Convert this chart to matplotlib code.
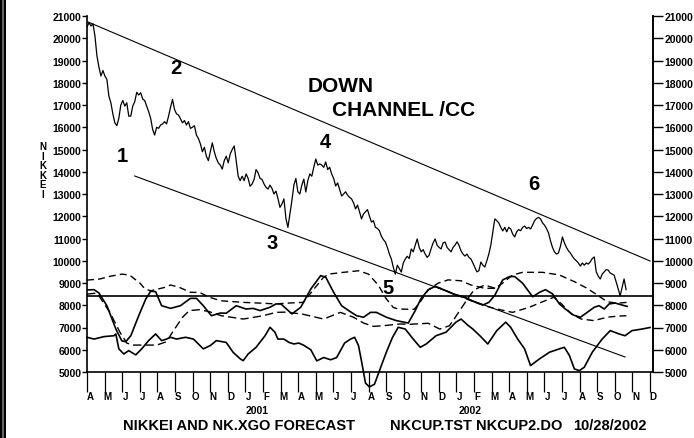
import numpy as np
import pandas as pd
import matplotlib
matplotlib.use("Agg")
import matplotlib.pyplot as plt

plt.rcParams['font.family'] = ['Liberation Sans', 'DejaVu Sans']
plt.rcParams['font.weight'] = 'bold'

# ---- data (months counted from 1 Apr 2000) ----
month_letters = list("AMJJASONDJFMAMJJASONDJFMAMJJASOND")
year_labels = ["2001", "2002"]

# Nikkei closes, half-weekly from Apr 2000 to 20 Oct 2002
nikkei = [
    20500, 20700, 20550, 20650, 20100, 19200, 18700, 18300, 18550, 18300,
    18150, 17400, 17100, 16600, 16200, 16070, 16400, 17000, 17200, 16950,
    17100, 16500, 16500, 16950, 17150, 17570, 17450, 17550, 17270, 17200,
    16950, 16700, 16400, 15900, 15650, 16000, 15950, 16100, 16150, 16250,
    16150, 16500, 16900, 17250, 16800, 16600, 16550, 16370, 16200, 16300,
    16100, 16250, 15950, 16000, 16070, 15650, 15500, 15250, 14900, 15100,
    14700, 14500, 14900, 15300, 14900, 14600, 14400, 14300, 14120, 14500,
    14700, 14400, 14800, 15000, 15160, 14500, 13800, 13600, 13800, 13600,
    13900, 13700, 13350, 13450, 13650, 14100, 13950, 13700, 13650, 13450,
    13300, 13220, 13400, 13250, 13000, 13130, 12800, 12400, 12550, 12780,
    11900, 11500, 12100, 12700, 13400, 13700, 13100, 13000, 13400, 13670,
    13090, 13600, 13900, 13800, 14200, 14570, 14300, 14350, 14300, 14200,
    14440, 14100, 14200, 13900, 13700, 13360, 13500, 13200, 12910, 13000,
    13100, 12950, 12850, 12780, 12600, 12330, 12500, 12200, 11880, 12100,
    12200, 12300, 12000, 11740, 11800, 11500, 11450, 11350, 11100, 10950,
    10840, 10600, 10300, 10080, 9700, 9400, 9800, 9650, 9490, 9900,
    10080, 10200, 10100, 10530, 10400, 10700, 10980, 10600, 10400, 10500,
    10300, 10150, 10250, 10550, 10800, 10980, 10700, 10600, 10530, 10800,
    10840, 10600, 10500, 10400, 10600, 10700, 10850, 10700, 10450, 10300,
    10210, 10300, 10150, 10080, 9900, 9700, 9500, 9550, 9940, 9800,
    9720, 10000, 10300, 10700, 11300, 11880, 11800, 11700, 11500, 11340,
    11500, 11300, 11500, 11430, 11200, 11070, 11300, 11400, 11350, 11500,
    11560, 11450, 11500, 11430, 11600, 11800, 11900, 11950, 11880, 11700,
    11600, 11450, 11250, 10900, 10600, 10400, 10300, 10350, 10650, 11070,
    10800, 10600, 10450, 10350, 10200, 10080, 10000, 9900, 9760, 9900,
    9800, 9900, 9850, 9950, 10100, 10170, 9500, 9310, 9180, 9400,
    9500, 9600, 9580, 9450, 9400, 9350, 9050, 8750, 8420, 8800,
    9180, 8700,
]
nikkei_end_month = 30.64

# NK.XGO oscillator (solid)
osc_m = [0.00, 0.40, 0.68, 1.13, 1.64, 1.98, 2.20, 2.49, 2.94, 3.34, 3.62, 3.90,
         4.24, 4.75, 5.31, 5.88, 6.22, 6.61, 7.07, 7.58, 7.91, 8.48, 9.04, 9.44,
         9.84, 10.40, 10.74, 11.02, 11.65, 12.15, 12.72, 13.28, 13.57, 14.02,
         14.47, 14.87, 15.32, 15.72, 16.11, 16.45, 17.02, 17.58, 18.26, 18.65,
         18.99, 19.39, 19.79, 20.29, 20.86, 21.42, 21.99, 22.50, 22.84, 23.18,
         23.63, 24.02, 24.31, 24.76, 25.33, 25.72, 26.06, 26.46, 26.85, 27.19,
         27.64, 28.04, 28.43, 28.83, 29.11, 29.40, 29.68, 30.02, 30.41, 30.70]
osc_v = [8690, 8700, 8550, 7980, 6930, 6400, 6360, 6630, 7530, 8280, 8630, 8610,
         7980, 7860, 7980, 8310, 8310, 7980, 7530, 7650, 7640, 7980, 7830, 7860,
         7760, 7910, 8060, 8060, 7610, 7910, 8730, 9330, 9260, 8580,
         7980, 7760, 7530, 7460, 7680, 7680, 7460, 7310, 7200, 7750,
         8310, 8690, 8850, 8690, 8490, 8380, 8160, 8010, 8130, 8450,
         9140, 9290, 9290, 8990, 8380, 8580, 8700, 8510, 8060, 7830,
         7560, 7460, 7680, 7910, 7980, 7830, 8060, 8100, 8010, 7950]

# forecast bands (dashed)
up_m = [0.0, 0.73, 1.30, 2.0, 2.43, 3.0, 3.3, 3.62, 4.41, 4.75, 5.26, 5.88, 6.39,
        6.95, 7.63, 8.88, 10.0, 10.74, 11.5, 12.3, 12.9, 13.45, 13.74, 14.58,
        15.43, 16.0, 16.56, 17.0, 17.41, 17.69, 18.26, 18.6, 18.95, 19.39, 19.95,
        20.52, 21.26, 21.82, 22.6, 23.2, 23.63, 24.19, 24.76, 25.89, 26.85, 27.7,
        28.43, 29.0, 29.56, 30.13, 30.7]
up_v = [9130, 9180, 9300, 9400, 9350, 9000, 8730, 8650, 8800, 8910, 8800, 8580, 8580,
        8360, 8200, 8130, 8090, 8060, 8100, 8130, 8730, 9260, 9400, 9480,
        9550, 9400, 8900, 8300, 7900, 7830, 7820, 7820, 8160, 8690, 8990,
        9140, 9100, 8910, 8760, 8760, 9000, 9360, 9480, 9480, 9360, 9060,
        8760, 8460, 8160, 8090, 8130]

lo_m = [0.0, 0.57, 1.30, 1.87, 2.26, 2.60, 3.96, 4.52, 4.86, 5.43, 5.82, 6.39, 6.95,
        7.63, 8.88, 10.01, 10.74, 11.2, 12.2, 13.45, 14.4, 15.15, 15.72, 16.28,
        16.85, 17.8, 18.26, 19.39, 20.05, 20.6, 20.9, 21.27, 21.65, 22.0, 22.6, 23.2]
lo_v = [8500, 8550, 7680, 6790, 6300, 6210, 6210, 6360, 6790, 7460, 7760, 7800, 7710,
        7530, 7380, 7530, 7680, 7690, 7610, 7380, 7680, 7460, 7200, 7050,
        7080, 7160, 7140, 7190, 6930, 7080, 7420, 7860, 8310, 8690, 8910, 8760]

fw_m = [19.79, 20.29, 20.86, 21.42, 21.99, 22.78, 23.29, 24.19, 25.14, 26.06, 26.53,
        26.97, 27.53, 28.09, 28.81, 29.56, 30.13, 30.70]
fw_v = [8850, 8700, 8500, 8330, 8150, 7940, 7830, 7680, 7910, 8210, 8360,
        8060, 7610, 7380, 7310, 7460, 7510, 7530]

# lower solid line
low_m = [0.0, 0.40, 0.96, 1.53, 1.64, 1.81, 2.09, 2.37, 2.77, 3.11, 3.50, 3.90, 4.24,
         4.52, 4.75, 5.09, 5.60, 6.05, 6.61, 7.01, 7.35, 7.91, 8.31, 8.71, 8.88,
         9.16, 9.61, 10.12, 10.40, 10.68, 10.85, 11.19, 11.48, 11.76, 12.04, 12.32,
         12.72, 13.06, 13.45, 13.85, 14.19, 14.64, 14.98, 15.21, 15.43, 15.60,
         15.83, 16.05, 16.34, 16.73, 17.02, 17.36, 17.69, 18.09, 18.54, 18.94,
         19.28, 19.84, 20.41, 20.97, 21.26, 21.65, 21.93, 22.33, 22.78, 23.29,
         23.80, 24.08, 24.48, 24.87, 25.21, 25.72, 26.29, 26.85, 27.13, 27.42,
         27.70, 27.98, 28.26, 28.72, 29.28, 29.74, 30.24, 30.58, 30.98, 31.54, 32.0]
low_v = [6560, 6480, 6590, 6630, 6710, 6040, 5810, 5960, 5770, 6040, 6410, 6710, 6410,
         6480, 6560, 6480, 6560, 6480, 6040, 6190, 6410, 6330, 5880, 5590, 5510,
         5810, 6110, 6630, 7010, 6790, 6480, 6480, 6330, 6260, 6300, 6200,
         6000, 5500, 5650, 5550, 5650, 6300, 6480, 6560, 6190, 5500,
         4500, 4330, 4450, 5290, 5900, 6550, 7010, 6930, 6480, 6110,
         6260, 6630, 6790, 7240, 7380, 7100, 6930, 6630, 6260, 6860,
         7240, 7010, 6480, 6040, 5290, 5590, 5890, 6040, 6110, 5740,
         5140, 5060, 5210, 5890, 6480, 6860, 6710, 6630, 6860, 6930, 7000]

# channel lines and reference level
upper_channel_m = [0.06, 32.0]
upper_channel_v = [20730, 9990]
lower_channel_m = [2.71, 30.58]
lower_channel_v = [13810, 5674]
ref_level = 8400

# ---- figure ----
W, H = 694, 439
fig = plt.figure(figsize=(W / 100, H / 100), dpi=100)
fig.patch.set_facecolor('white')
ax = fig.add_axes([87 / W, 1 - 373 / H, 566 / W, 356 / H])
ax.set_xlim(0, 32)
ax.set_ylim(5000, 21000)

price_m = np.linspace(0, nikkei_end_month, len(nikkei))
ax.plot(price_m, nikkei, color='black', lw=0.9)
ax.plot(upper_channel_m, upper_channel_v, color='black', lw=0.8)
ax.plot(lower_channel_m, lower_channel_v, color='black', lw=0.8)
ax.axhline(ref_level, color='black', lw=1.2)

ax.plot(osc_m, osc_v, color='black', lw=1.2)
ax.plot(up_m, up_v, color='black', lw=1.0, dashes=(5, 3))
ax.plot(lo_m, lo_v, color='black', lw=1.0, dashes=(6, 3))
ax.plot(fw_m, fw_v, color='black', lw=1.0, dashes=(5, 3))
ax.plot(low_m, low_v, color='black', lw=1.2, clip_on=False)

# spines
ax.spines['top'].set_visible(False)
for s in ['left', 'right', 'bottom']:
    ax.spines[s].set_linewidth(1.2)

# y ticks left
yt = np.arange(5000, 21001, 1000)
ax.set_yticks(yt)
ax.set_yticklabels([str(v) for v in yt])
ax.tick_params(axis='y', direction='out', length=3.5, width=1.0, pad=0.5,
               labelsize=7.5)

# y ticks right (kept just inside the image edge)
ax2 = ax.twinx()
ax2.set_ylim(5000, 21000)
ax2.set_yticks(yt)
ax2.set_yticklabels([str(v) for v in yt])
ax2.tick_params(axis='y', direction='out', length=7, width=1.0, pad=1.5,
                labelsize=7.5)
for s in ['left', 'top', 'bottom']:
    ax2.spines[s].set_visible(False)
ax2.spines['right'].set_linewidth(1.2)

# x month ticks
ax.set_xticks(np.arange(0, 33), minor=True)
ax.set_xticks(np.arange(0, 33) + 0.17)
ax.set_xticklabels(month_letters)
ax.tick_params(axis='x', which='minor', direction='out', length=14.5, width=0.9)
ax.tick_params(axis='x', which='major', length=0, pad=14, labelsize=7)

def ftext(px, py, s, **kw):
    fig.text(px / W, 1 - py / H, s, **kw)

ftext(257, 411, year_labels[0], fontsize=7.5, ha='center', va='center')
ftext(470, 411, year_labels[1], fontsize=7.5, ha='center', va='center')

ftext(123, 426, "NIKKEI AND NK.XGO FORECAST", fontsize=10.5, ha='left', va='center')
ftext(390, 426, "NKCUP.TST NKCUP2.DO", fontsize=10.5, ha='left', va='center')
ftext(573, 426, "10/28/2002", fontsize=10.5, ha='left', va='center')

ftext(43, 171, "N\nI\nK\nK\nE\nI", fontsize=7, ha='center', va='center',
      linespacing=0.95)

ftext(308, 86, "DOWN", fontsize=15, ha='left', va='center')
ftext(332, 111, "CHANNEL /CC", fontsize=15, ha='left', va='center')

for lab, px, py in [("1", 122, 157), ("2", 176, 68), ("3", 272, 244),
                    ("4", 325, 142), ("5", 388, 289), ("6", 534, 185)]:
    ftext(px, py, lab, fontsize=14.5, ha='center', va='center')

# left border bar
fig.add_artist(plt.Rectangle((0, 0), 6 / W, 1, transform=fig.transFigure,
                             facecolor='black', edgecolor='none'))
fig.add_artist(plt.Rectangle((2 / W, 0), 1.5 / W, 1, transform=fig.transFigure,
                             facecolor='#666666', edgecolor='none'))

fig.savefig('out.png', dpi=100)
